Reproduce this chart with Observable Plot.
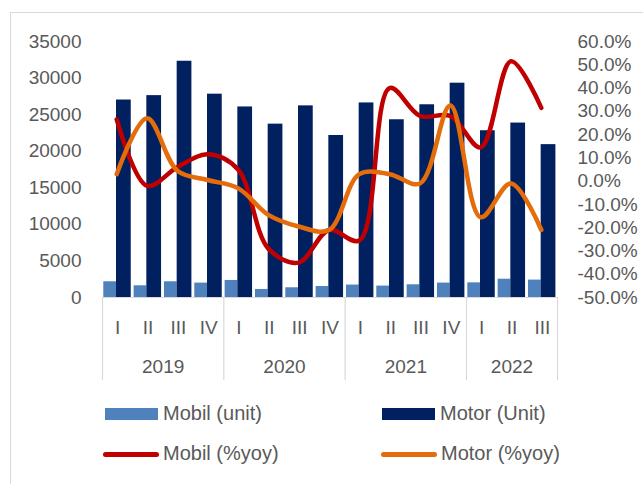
<!DOCTYPE html>
<html>
<head>
<meta charset="utf-8">
<script src="https://cdn.jsdelivr.net/npm/d3@7"></script>
<script src="https://cdn.jsdelivr.net/npm/@observablehq/plot@0.6"></script>
<style>
  html, body { margin: 0; padding: 0; background: #fff; }
  #wrap { position: relative; width: 643px; height: 484px; overflow: hidden; font-family: "Liberation Sans", Arial, sans-serif; color: #595959; }
  #frame { position: absolute; left: 10px; top: 12px; width: 700px; height: 500px; border-left: 1px solid #d9d9d9; border-top: 1px solid #d9d9d9; }
  #chart { position: absolute; left: 0; top: 0; }
  .lg { position: absolute; font-size: 20px; line-height: 20px; white-space: nowrap; }
  .sw { position: absolute; }
</style>
</head>
<body>
<div id="wrap">
  <div id="frame"></div>
  <div id="chart"></div>
  <div id="legend"></div>
</div>
<script>
const years = ["2019", "2020", "2021", "2022"];
const quartersPerYear = [4, 4, 4, 3];
const quarterLabels = ["I","II","III","IV","I","II","III","IV","I","II","III","IV","I","II","III"];
const mobilUnit = [2150, 1600, 2150, 1970, 2330, 1100, 1330, 1500, 1700, 1560, 1740, 1970, 2000, 2500, 2380];
const motorUnit = [27000, 27600, 32300, 27800, 26050, 23700, 26200, 22150, 26600, 24300, 26350, 29300, 22800, 23850, 20900];
const mobilYoy = [26.5, -2, 6, 11.5, 5, -29, -35, -21, -25.5, 40, 28, 28, 14.5, 51.5, 31.5];
const motorYoy = [3, 27, 4.5, 0.5, -3, -14.5, -19.5, -21, 3, 3, -1, 32.5, -15.5, -1, -21];
const leftTicks = [0, 5000, 10000, 15000, 20000, 25000, 30000, 35000];
const rightTicks = [-50, -40, -30, -20, -10, 0, 10, 20, 30, 40, 50, 60];

const leftMax = 35000, pMin = -50, pMax = 60;
const toLeft = p => (p - pMin) / (pMax - pMin) * leftMax;
const fromLeft = v => v / leftMax * (pMax - pMin) + pMin;

const colors = {mobilBar: "#4f81bd", motorBar: "#002060", mobilLine: "#c00000", motorLine: "#e46c0a"};

const rows = quarterLabels.map((q, i) => ({
  i, xc: i + 0.5, q,
  mobil: mobilUnit[i], motor: motorUnit[i],
  mobilP: toLeft(mobilYoy[i]), motorP: toLeft(motorYoy[i])
}));

// year group centres and boundaries derived from quarter counts
const bounds = [0];
quartersPerYear.forEach(n => bounds.push(bounds[bounds.length - 1] + n));
const yearCenters = years.map((y, k) => (bounds[k] + bounds[k + 1]) / 2);

const chart = Plot.plot({
  width: 643,
  height: 395,
  marginLeft: 102,
  marginRight: 86,
  marginTop: 41,
  marginBottom: 98,
  style: {fontFamily: "'Liberation Sans', Arial, sans-serif", fontSize: "19px", color: "#595959", background: "transparent"},
  x: {domain: [0, bounds[bounds.length - 1]]},
  y: {domain: [0, leftMax]},
  marks: [
    Plot.rectY(rows, {x: "i", interval: 1, y: "mobil", fill: colors.mobilBar, insetLeft: 1.3, insetRight: 16.3}),
    Plot.rectY(rows, {x: "i", interval: 1, y: "motor", fill: colors.motorBar, insetLeft: 14, insetRight: 1.6}),
    Plot.ruleY([0], {stroke: "#d9d9d9", strokeWidth: 1}),
    Plot.line(rows, {x: "xc", y: "mobilP", stroke: colors.mobilLine, strokeWidth: 4.5, curve: "catmull-rom", dx: -1, strokeLinecap: "round", strokeLinejoin: "round"}),
    Plot.line(rows, {x: "xc", y: "motorP", stroke: colors.motorLine, strokeWidth: 4.5, curve: "catmull-rom", dx: -1, strokeLinecap: "round", strokeLinejoin: "round"}),
    Plot.axisY({anchor: "left", ticks: leftTicks, tickSize: 0, tickPadding: 21, tickFormat: d => String(d), label: null}),
    Plot.axisY({anchor: "right", ticks: rightTicks.map(toLeft), tickSize: 0, tickPadding: 20, tickFormat: v => Math.round(fromLeft(v)).toFixed(1) + "%", label: null}),
    Plot.axisX({anchor: "bottom", ticks: rows.map(d => d.xc), tickSize: 0, tickPadding: 23, tickFormat: v => quarterLabels[Math.floor(v)], label: null}),
    Plot.axisX({anchor: "bottom", ticks: yearCenters, tickSize: 0, tickPadding: 62, tickFormat: v => years[yearCenters.indexOf(v)], label: null}),
    Plot.axisX({anchor: "bottom", ticks: bounds, tickSize: 83, stroke: "#d9d9d9", strokeWidth: 1.2, tickFormat: () => "", label: null})
  ]
});
document.getElementById("chart").appendChild(chart);

// legend (HTML, below the SVG)
const legendItems = [
  {label: "Mobil (unit)", color: colors.mobilBar, kind: "rect", x: 105, y: 414},
  {label: "Motor (Unit)", color: colors.motorBar, kind: "rect", x: 382, y: 414},
  {label: "Mobil (%yoy)", color: colors.mobilLine, kind: "line", x: 103, y: 454},
  {label: "Motor (%yoy)", color: colors.motorLine, kind: "line", x: 381, y: 454}
];
const lg = document.getElementById("legend");
legendItems.forEach(it => {
  const sw = document.createElement("div");
  sw.className = "sw";
  if (it.kind === "rect") {
    Object.assign(sw.style, {left: it.x + "px", top: (it.y - 6) + "px", width: "53px", height: "12px", background: it.color});
  } else {
    Object.assign(sw.style, {left: it.x + "px", top: (it.y - 2.5) + "px", width: "56px", height: "5px", background: it.color, borderRadius: "3px"});
  }
  lg.appendChild(sw);
  const t = document.createElement("div");
  t.className = "lg";
  t.textContent = it.label;
  Object.assign(t.style, {left: (it.kind === "rect" ? it.x + 58 : it.x + 60) + "px", top: (it.y - 11) + "px"});
  lg.appendChild(t);
});
</script>
</body>
</html>
